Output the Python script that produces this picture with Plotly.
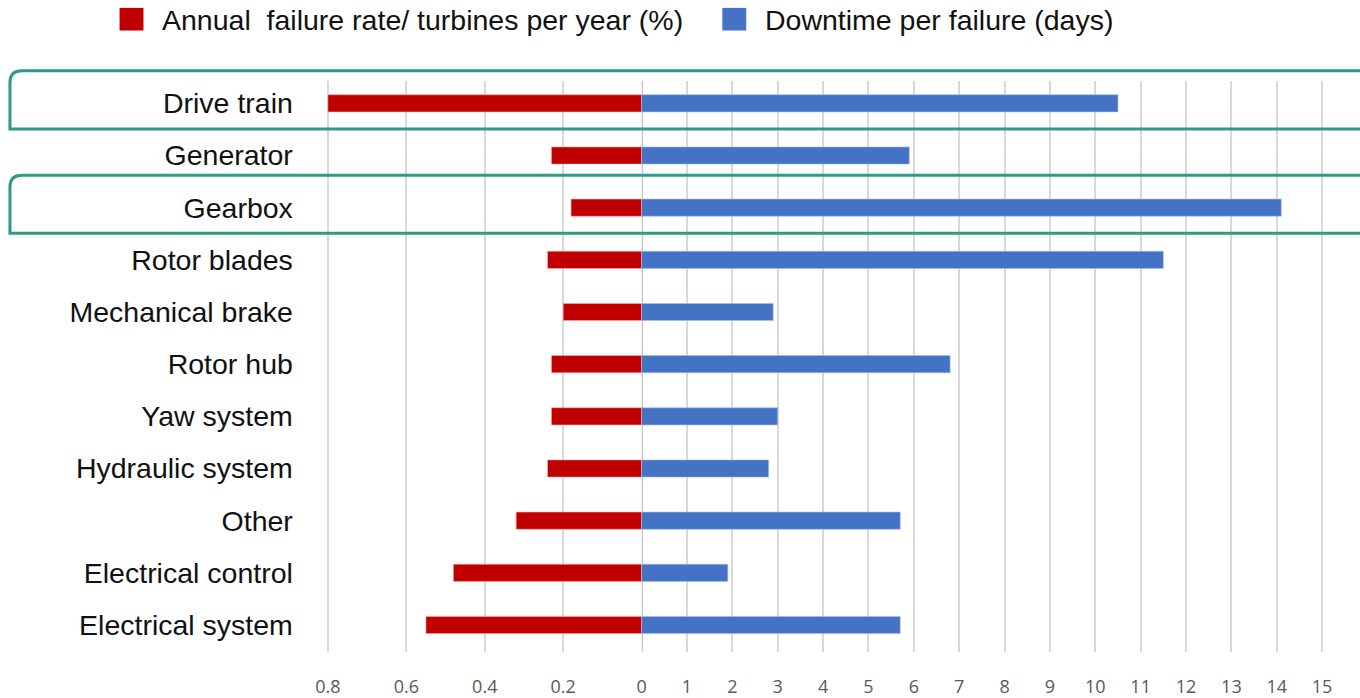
import plotly.graph_objects as go

# Components, top to bottom
components = [
    "Drive train", "Generator", "Gearbox", "Rotor blades", "Mechanical brake",
    "Rotor hub", "Yaw system", "Hydraulic system", "Other",
    "Electrical control", "Electrical system",
]
# Annual failure rate / turbines per year (%)
failure_rate = [0.80, 0.23, 0.18, 0.24, 0.20, 0.23, 0.23, 0.24, 0.32, 0.48, 0.55]
# Downtime per failure (days)
downtime = [10.5, 5.9, 14.1, 11.5, 2.9, 6.8, 3.0, 2.8, 5.7, 1.9, 5.7]

rate_ticks = [0.8, 0.6, 0.4, 0.2, 0]
rate_labels = ["0.8", "0.6", "0.4", "0.2", "0"]
day_ticks = list(range(1, 16))
day_labels = [str(v) for v in day_ticks]

highlighted = ["Drive train", "Gearbox"]

W, H = 1360, 698
RED, BLUE, TEAL = "#C00000", "#4472C4", "#2E9A88"
GRID = "#D9D9D9"


def px(x):
    return x / W


def py(y):
    return 1 - y / H


X_SPLIT = 644          # pixel column where both scales meet at zero
X_LEFT = 314           # left edge of the failure-rate panel
RATE_08 = 329.1        # pixel column of the 0.8 rate tick
DAY_15 = 1327          # pixel column of the 15-day tick
ROW0, ROW_LAST = 105.0, 635.0
Y_TOP, Y_BOT = 82, 662

rate_px_per_unit = (X_SPLIT - RATE_08) / 0.8
day_px_per_unit = (DAY_15 - X_SPLIT) / 15.0
row_px = (ROW_LAST - ROW0) / (len(components) - 1)

fig = go.Figure()
fig.add_trace(go.Bar(
    y=components, x=failure_rate, orientation="h", width=0.33,
    marker=dict(color=RED, line=dict(color="rgba(255,170,170,0.6)", width=1)),
    xaxis="x", yaxis="y", name="Annual failure rate/ turbines per year (%)",
))
fig.add_trace(go.Bar(
    y=components, x=downtime, orientation="h", width=0.33,
    marker=dict(color=BLUE, line=dict(color="rgba(170,190,240,0.6)", width=1)),
    xaxis="x2", yaxis="y", name="Downtime per failure (days)",
))

tick_font = dict(family="Open Sans, Liberation Sans, sans-serif", size=18, color="#595959")
label_font = dict(family="Liberation Sans, Arial, sans-serif", size=28.5, color="#111111")

fig.update_layout(
    width=W, height=H,
    margin=dict(l=0, r=0, t=0, b=0),
    paper_bgcolor="white", plot_bgcolor="white",
    showlegend=False,
    barmode="overlay",
    xaxis=dict(
        domain=[px(X_LEFT), px(X_SPLIT)],
        range=[(X_SPLIT - X_LEFT) / rate_px_per_unit, 0],
        tickvals=rate_ticks, ticktext=rate_labels,
        showgrid=True, gridcolor=GRID, gridwidth=2,
        zeroline=False, showline=False, ticks="",
        tickfont=tick_font, ticklabelstandoff=22,
        anchor="y",
    ),
    xaxis2=dict(
        domain=[px(X_SPLIT), 1],
        range=[0, (W - X_SPLIT) / day_px_per_unit],
        tickvals=day_ticks, ticktext=day_labels,
        showgrid=True, gridcolor=GRID, gridwidth=2,
        zeroline=False, showline=False, ticks="",
        tickfont=tick_font, ticklabelstandoff=22,
        anchor="y",
    ),
    yaxis=dict(
        domain=[py(Y_BOT), py(Y_TOP)],
        type="category",
        categoryorder="array", categoryarray=components,
        range=[(Y_BOT - ROW0) / row_px, -(ROW0 - Y_TOP) / row_px],
        showgrid=False, zeroline=False, showline=False, ticks="",
        tickfont=label_font,
        ticklabelstandoff=19,
        anchor="x",
    ),
)

# darker zero line shared by both scales
fig.add_shape(type="line", xref="x2", yref="paper",
              x0=0, x1=0, y0=py(Y_BOT), y1=py(Y_TOP),
              line=dict(color="#C8C8C8", width=3), layer="below")

# rounded highlight frames around selected rows
for name in highlighted:
    i = components.index(name)
    cy = ROW0 + i * row_px
    top, bot = cy - 33, cy + 26
    left, r = 10, 12
    path = (
        f"M {px(W + 10)},{py(top)} L {px(left + r)},{py(top)} "
        f"Q {px(left)},{py(top)} {px(left)},{py(top + r)} "
        f"L {px(left)},{py(bot)} L {px(W + 10)},{py(bot)}"
    )
    fig.add_shape(type="path", xref="paper", yref="paper", path=path,
                  line=dict(color=TEAL, width=3), layer="above")

# legend drawn as swatches with labels
legend_items = [
    (120, RED, "Annual  failure rate/ turbines per year (%)"),
    (725, BLUE, "Downtime per failure (days)"),
]
for x0, color, label in legend_items:
    fig.add_shape(type="rect", xref="paper", yref="paper",
                  x0=px(x0), x1=px(x0 + 24), y0=py(31), y1=py(8),
                  fillcolor=color, line=dict(width=0))
    fig.add_annotation(xref="paper", yref="paper", x=px(x0 + 41), y=py(20),
                       text=label, showarrow=False, xanchor="left", yanchor="middle",
                       font=label_font)

fig.write_html("out.html")
